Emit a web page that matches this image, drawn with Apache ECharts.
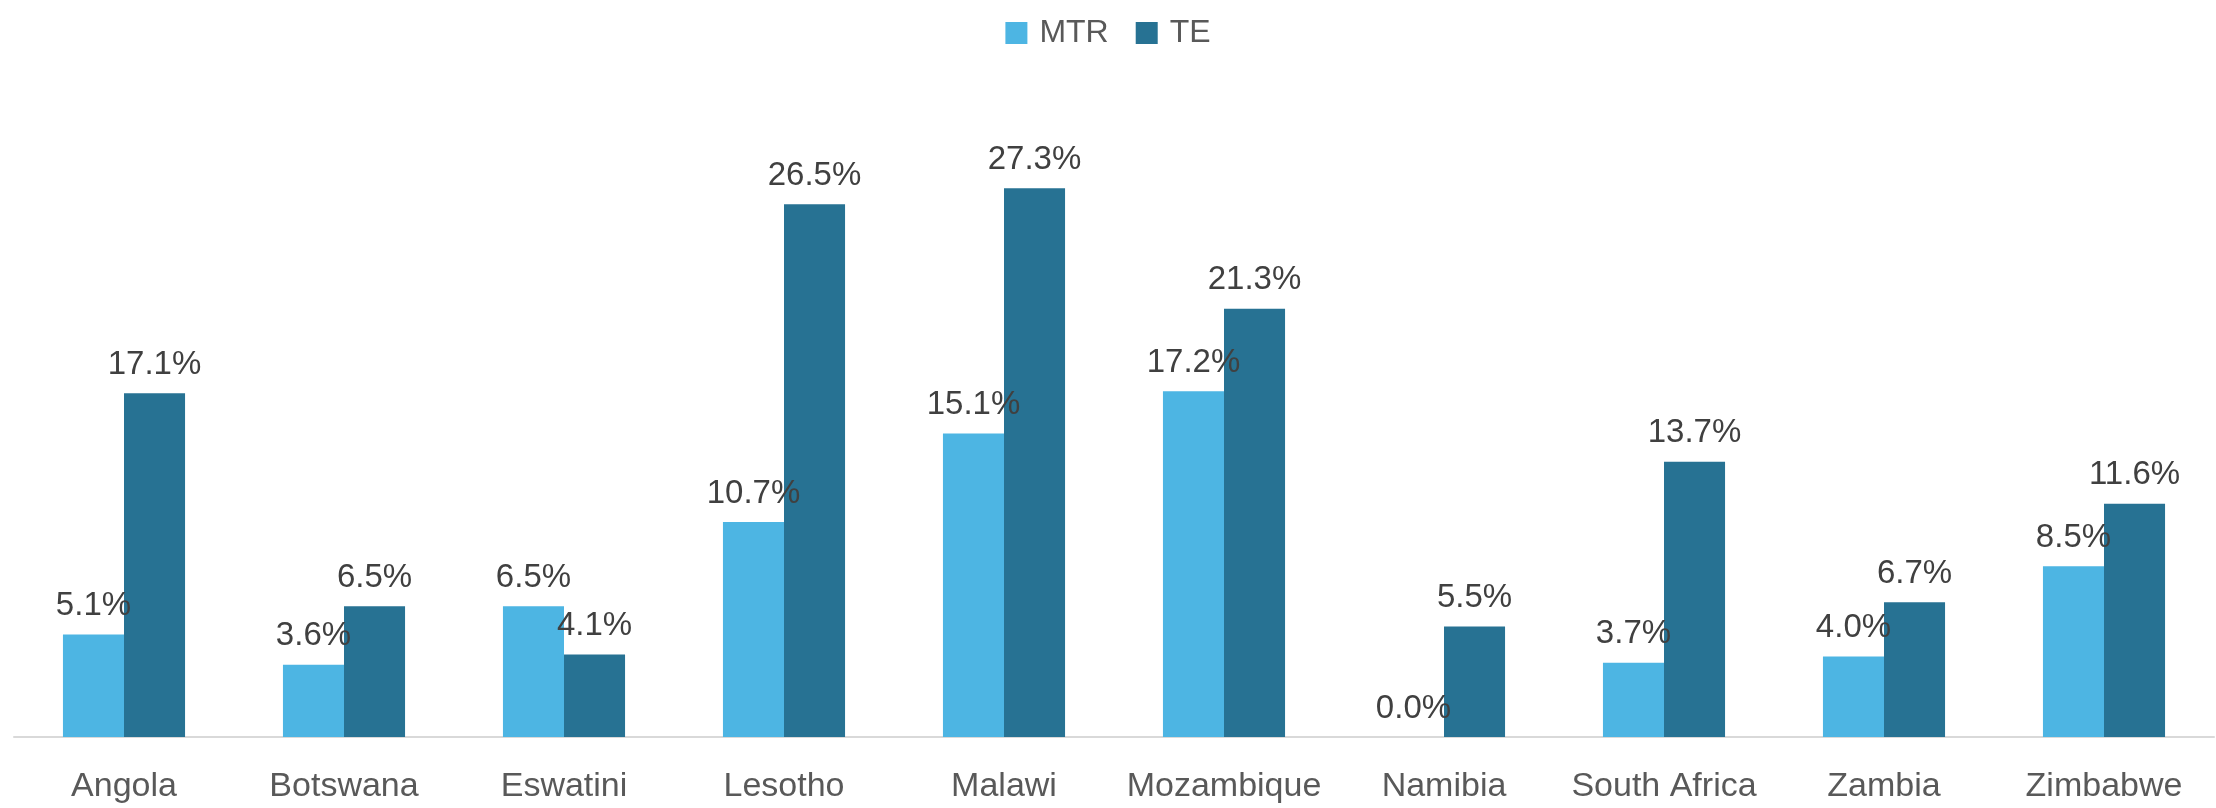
<!DOCTYPE html>
<html>
<head>
<meta charset="utf-8">
<script src="https://cdn.jsdelivr.net/npm/echarts@6/dist/echarts.min.js"></script>
<style>
  html, body { margin: 0; padding: 0; background: #fff; }
  #chart { width: 2216px; height: 808px; }
</style>
</head>
<body>
<div id="chart"></div>
<script>
const countries = ['Angola', 'Botswana', 'Eswatini', 'Lesotho', 'Malawi', 'Mozambique', 'Namibia', 'South Africa', 'Zambia', 'Zimbabwe']
const mtr = [5.1, 3.6, 6.5, 10.7, 15.1, 17.2, 0.0, 3.7, 4.0, 8.5]
const te = [17.1, 6.5, 4.1, 26.5, 27.3, 21.3, 5.5, 13.7, 6.7, 11.6]

const font = 'Liberation Sans, Arial, sans-serif'

const chart = echarts.init(document.getElementById('chart'))

const barLabel = {
  show: true,
  position: 'top',
  distance: 12,
  color: '#404040',
  fontSize: 33,
  fontFamily: font,
  formatter: (p) => p.value.toFixed(1) + '%'
}

const option = {
  animation: false,
  legend: {
    top: 12,
    left: 'center',
    itemWidth: 22,
    itemHeight: 22,
    itemGap: 27,
    icon: 'rect',
    textStyle: { color: '#595959', fontSize: 32, fontFamily: font, padding: [0, 0, 0, 7] },
    data: ['MTR', 'TE']
  },
  grid: {
    left: 14,
    right: 2,
    top: 134,
    bottom: 71
  },
  xAxis: {
    type: 'category',
    data: countries,
    axisLine: { lineStyle: { color: '#D9D9D9', width: 2 } },
    axisTick: { show: false },
    axisLabel: {
      color: '#595959',
      fontSize: 34,
      fontFamily: font,
      margin: 33,
      interval: 0
    }
  },
  yAxis: {
    type: 'value',
    min: 0,
    max: 30,
    show: false,
    splitLine: { show: false }
  },
  series: [
    {
      name: 'MTR',
      type: 'bar',
      data: mtr,
      barGap: '0%',
      barCategoryGap: '44.5%',
      itemStyle: { color: '#4DB5E3' },
      label: barLabel
    },
    {
      name: 'TE',
      type: 'bar',
      data: te,
      itemStyle: { color: '#277293' },
      label: barLabel
    }
  ]
}

chart.setOption(option)
</script>
</body>
</html>
